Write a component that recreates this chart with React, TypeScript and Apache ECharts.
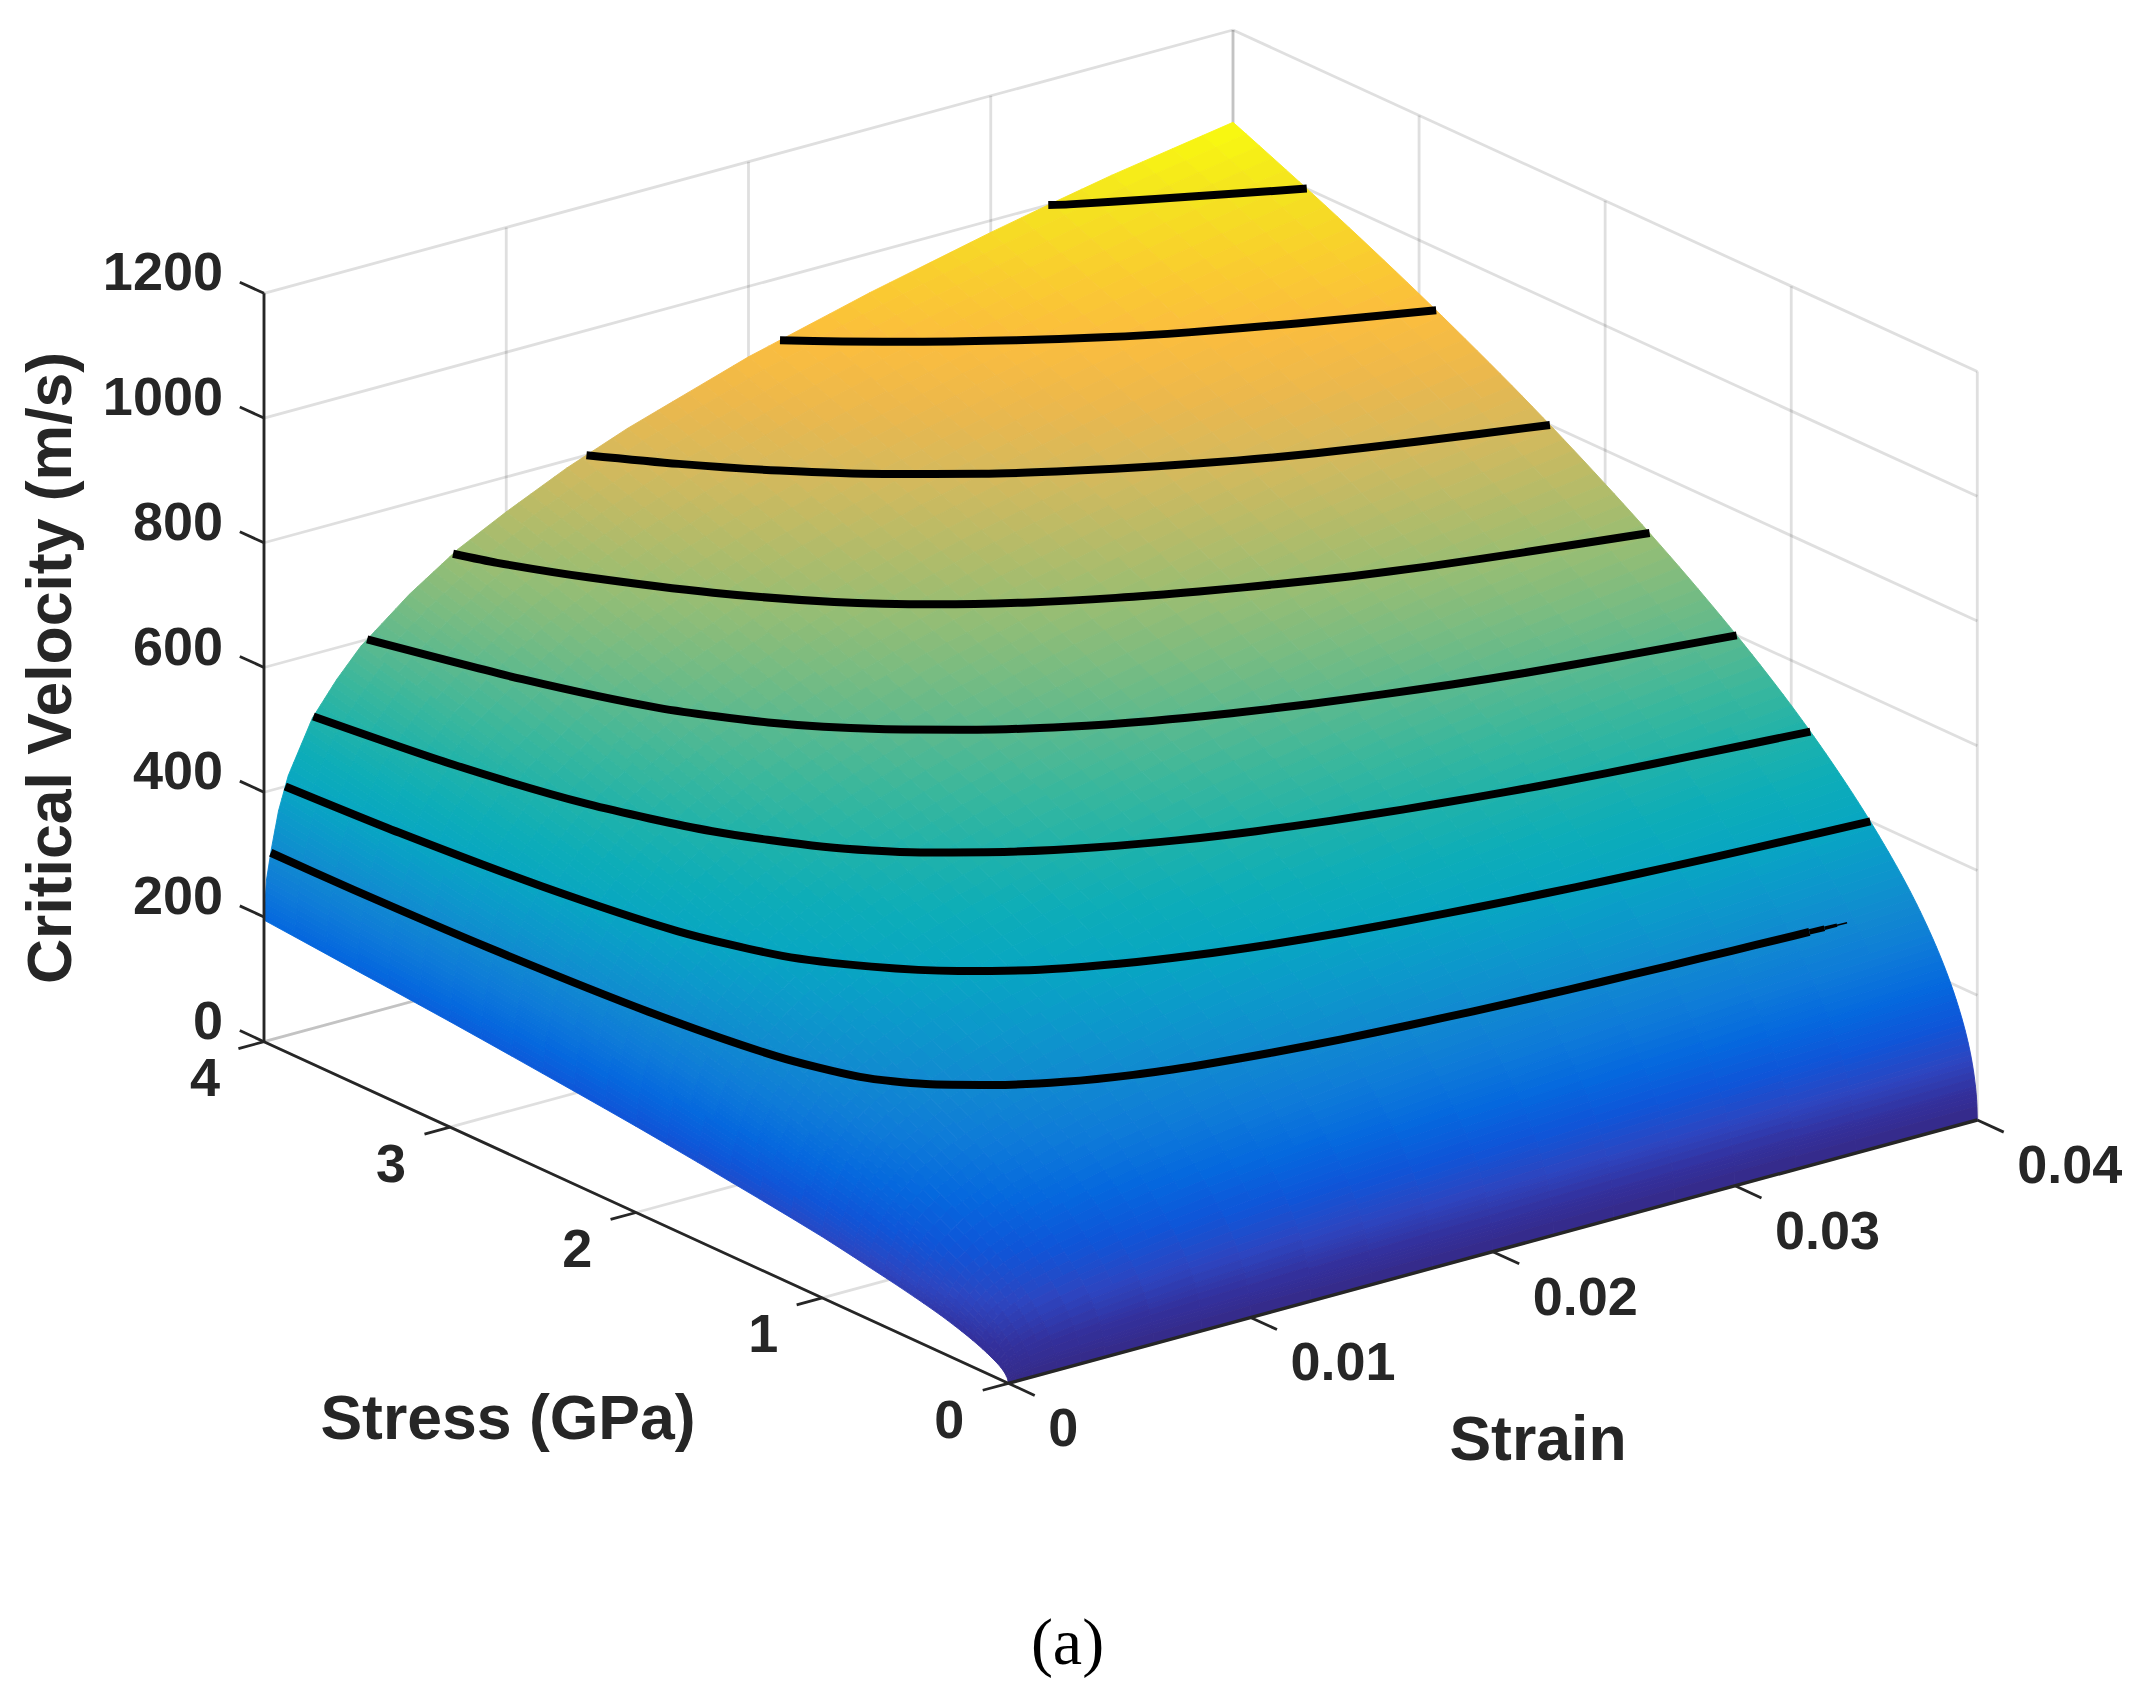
import React, { useEffect, useRef } from "react";
import * as echarts from "echarts";

const WIDTH = 2147;
const HEIGHT = 1697;

// Mesh positions
const strainNodes = [0, 0.0001, 0.0003, 0.0006, 0.001, 0.002, 0.003, 0.004, 0.006, 0.008, 0.01, 0.0125, 0.015, 0.0175, 0.02, 0.0225, 0.025, 0.0275, 0.03, 0.0325, 0.035, 0.04];
const stressNodes = [0, 0.01, 0.04, 0.09, 0.16, 0.25, 0.36, 0.5, 0.75, 1, 1.5, 2, 2.5, 3, 3.5, 4];

// Critical velocity (m/s): one row per stress node, one column per strain node
const velocityRows = [
  [0, 0, 0, 0, 0, 0, 0, 0, 0, 0, 0, 0, 0, 0, 0, 0, 0, 0, 0, 0, 0, 0],
  [10, 13, 15, 18, 21, 25, 27, 30, 33, 35, 37, 39, 41, 43, 44, 46, 47, 48, 49, 50, 51, 53],
  [20, 26, 31, 36, 42, 50, 55, 59, 65, 71, 74, 79, 83, 86, 89, 91, 94, 96, 98, 100, 102, 106],
  [29, 39, 46, 55, 62, 75, 82, 89, 98, 106, 112, 118, 124, 128, 133, 137, 141, 144, 147, 150, 153, 158],
  [39, 52, 61, 73, 83, 100, 110, 118, 131, 141, 149, 158, 165, 171, 177, 182, 187, 192, 196, 200, 204, 211],
  [49, 65, 76, 91, 104, 125, 137, 148, 164, 176, 186, 197, 206, 214, 222, 228, 234, 240, 245, 250, 255, 264],
  [59, 77, 92, 109, 125, 149, 165, 178, 196, 212, 223, 236, 248, 257, 266, 274, 281, 288, 294, 300, 306, 317],
  [69, 91, 108, 129, 147, 176, 194, 210, 232, 250, 263, 279, 292, 303, 314, 323, 332, 339, 347, 354, 361, 373],
  [84, 112, 132, 158, 180, 216, 238, 256, 283, 305, 322, 341, 357, 371, 384, 395, 406, 415, 425, 433, 442, 457],
  [98, 129, 153, 182, 208, 249, 275, 296, 327, 353, 372, 394, 413, 428, 444, 456, 469, 480, 491, 501, 510, 528],
  [119, 158, 187, 223, 255, 305, 336, 362, 400, 431, 455, 482, 505, 524, 543, 558, 573, 587, 600, 613, 624, 646],
  [138, 182, 216, 257, 294, 352, 388, 419, 462, 498, 526, 557, 583, 605, 627, 645, 662, 678, 694, 708, 721, 746],
  [154, 204, 241, 288, 329, 394, 434, 468, 517, 558, 588, 623, 653, 677, 702, 721, 741, 759, 776, 792, 807, 835],
  [169, 223, 264, 315, 360, 431, 475, 513, 566, 611, 644, 682, 714, 741, 768, 790, 811, 831, 850, 867, 883, 914],
  [182, 241, 285, 340, 389, 466, 513, 554, 611, 659, 696, 737, 771, 800, 829, 853, 876, 897, 917, 936, 954, 986],
  [195, 258, 305, 364, 416, 498, 549, 592, 654, 705, 744, 788, 825, 856, 887, 912, 937, 959, 981, 1001, 1020, 1052],
];

const contourLevels = [300, 400, 500, 600, 700, 800, 900, 1000];
const contourStrainEnd = [0.0357, 0.04, 0.04, 0.04, 0.04, 0.04, 0.04, 0.04];
const taperEnds = [0.0363, 0.0368, 0.0372];
const taperWidths = [5.5, 3.5, 1.5];

const strainTicks = [0, 0.01, 0.02, 0.03, 0.04];
const strainTickLabels = ["0", "0.01", "0.02", "0.03", "0.04"];
const stressTicks = [0, 1, 2, 3, 4];
const stressTickLabels = ["0", "1", "2", "3", "4"];
const velocityTicks = [0, 200, 400, 600, 800, 1000, 1200];
const velocityTickLabels = ["0", "200", "400", "600", "800", "1000", "1200"];

// Colour of the surface against velocity
const colorLevels = [0, 45, 92, 145, 195, 250, 300, 350, 400, 450, 500, 550, 600, 650, 700, 750, 800, 850, 900, 950, 1000, 1052];
const colorValues = ["#352a87", "#33309c", "#2d45c0", "#0f55d8", "#0568de", "#0e7bd8", "#1189d0", "#0c98cb", "#08a6c2", "#0dadb8", "#20b2aa", "#3ab79c", "#5cb98e", "#7cbc80", "#9bbd72", "#b9bb67", "#d6b95c", "#ecb84c", "#fbbd3e", "#f9ce2e", "#f4e31f", "#f9fb0e"];

// View of the 3-D box on the page
const ORIGIN = [1008.3, 1383.3];
const STRAIN_SPAN = [969, -263.3];
const STRESS_SPAN = [-744.3, -341.6];
const STRAIN_MAX = 0.04;
const STRESS_MAX = 4;
const VELOCITY_MAX = 1200;
const VELOCITY_SPAN = 748.4;

const TEXT = "#262626";
const SANS = "'Liberation Sans', Arial, sans-serif";

function project(strain: number, stress: number, velocity: number): number[] {
  const a = strain / STRAIN_MAX;
  const b = stress / STRESS_MAX;
  return [
    ORIGIN[0] + a * STRAIN_SPAN[0] + b * STRESS_SPAN[0],
    ORIGIN[1] + a * STRAIN_SPAN[1] + b * STRESS_SPAN[1] - (velocity / VELOCITY_MAX) * VELOCITY_SPAN,
  ];
}

function hexToRgb(h: string): number[] {
  return [1, 3, 5].map((k) => parseInt(h.slice(k, k + 2), 16));
}
const colorRgb = colorValues.map(hexToRgb);

function colorAt(z: number): string {
  let k = 0;
  while (k < colorLevels.length - 2 && z > colorLevels[k + 1]) k++;
  const t = Math.max(0, Math.min(1, (z - colorLevels[k]) / (colorLevels[k + 1] - colorLevels[k])));
  const c = colorRgb[k].map((v, n) => Math.round(v + (colorRgb[k + 1][n] - v) * t));
  return `rgb(${c[0]},${c[1]},${c[2]})`;
}

// Mesh look-up between the table's nodes
function velocityAtColumn(strain: number): number[] {
  let i = 0;
  while (i < strainNodes.length - 2 && strain > strainNodes[i + 1]) i++;
  const t = (strain - strainNodes[i]) / (strainNodes[i + 1] - strainNodes[i]);
  return velocityRows.map((row) => row[i] + (row[i + 1] - row[i]) * t);
}

function stressOnContour(strain: number, level: number): number | null {
  const col = velocityAtColumn(strain);
  if (col[col.length - 1] < level) return null;
  for (let j = 0; j < col.length - 1; j++) {
    if (col[j + 1] >= level) {
      const t = (level * level - col[j] * col[j]) / (col[j + 1] * col[j + 1] - col[j] * col[j]);
      return stressNodes[j] + t * (stressNodes[j + 1] - stressNodes[j]);
    }
  }
  return null;
}

function contourPoints(level: number, from: number, to: number): number[][] {
  const strains: number[] = [from, to, ...strainNodes];
  const top = velocityRows[velocityRows.length - 1];
  for (let i = 0; i < strainNodes.length - 1; i++) {
    if (top[i] <= level && top[i + 1] > level) {
      strains.push(strainNodes[i] + ((level - top[i]) / (top[i + 1] - top[i])) * (strainNodes[i + 1] - strainNodes[i]));
    }
  }
  strains.sort((p, q) => p - q);
  const out: number[][] = [];
  let last = -1;
  for (const s of strains) {
    if (s < from || s > to || s - last < 1e-7) continue;
    const stress = stressOnContour(s, level);
    if (stress !== null) {
      out.push(project(s, stress, level));
      last = s;
    }
  }
  return out;
}

// Evens out the rounding of the table's integers along a contour, without shrinking it
function evenOut(points: number[][]): number[][] {
  const pass = (cur: number[][], w: number) =>
    cur.map((p, n) => {
      if (n === 0 || n === cur.length - 1) return p;
      return [0, 1].map((d) => p[d] + w * (0.5 * (cur[n - 1][d] + cur[n + 1][d]) - p[d]));
    });
  let cur = points;
  for (let k = 0; k < 4; k++) cur = pass(pass(cur, 0.5), -0.53);
  return cur;
}

const cellData: number[][] = [];
for (let j = stressNodes.length - 2; j >= 0; j--) {
  for (let i = strainNodes.length - 2; i >= 0; i--) cellData.push([i, j]);
}

function renderCell(_: any, api: any) {
  const i = api.value(0) as number;
  const j = api.value(1) as number;
  const z00 = velocityRows[j][i];
  const z10 = velocityRows[j][i + 1];
  const z01 = velocityRows[j + 1][i];
  const z11 = velocityRows[j + 1][i + 1];
  const nu = Math.min(10, Math.max(1, Math.ceil(Math.max(Math.abs(z10 - z00), Math.abs(z11 - z01)) / 10)));
  const nv = Math.min(12, Math.max(3, Math.ceil(Math.max(Math.abs(z01 - z00), Math.abs(z11 - z10)) / 10)));
  const vertex = (a: number, b: number) => {
    const low = z00 * (1 - a) + z10 * a;
    const high = z01 * (1 - a) + z11 * a;
    const z = Math.sqrt(low * low * (1 - b) + high * high * b);
    const e = strainNodes[i] + (strainNodes[i + 1] - strainNodes[i]) * a;
    const s = stressNodes[j] + (stressNodes[j + 1] - stressNodes[j]) * b;
    return { z, p: api.coord(project(e, s, z)) };
  };
  const children: any[] = [];
  for (let b = nv - 1; b >= 0; b--) {
    for (let a = nu - 1; a >= 0; a--) {
      const q = [
        vertex(a / nu, b / nv),
        vertex((a + 1) / nu, b / nv),
        vertex((a + 1) / nu, (b + 1) / nv),
        vertex(a / nu, (b + 1) / nv),
      ];
      const fill = colorAt((q[0].z + q[1].z + q[2].z + q[3].z) / 4);
      children.push({
        type: "polygon",
        shape: { points: q.map((v) => v.p) },
        style: { fill, stroke: fill, lineWidth: 0.9 },
      });
    }
  }
  return { type: "group", children };
}

function segment(api: any, from: number[], to: number[], stroke: string, opacity: number, lineWidth: number) {
  const a = api.coord(from);
  const b = api.coord(to);
  return {
    type: "line",
    shape: { x1: a[0], y1: a[1], x2: b[0], y2: b[1] },
    style: { stroke, opacity, lineWidth, lineCap: "butt" },
  };
}

function renderWalls(_: any, api: any) {
  const children: any[] = [];
  const grid = (from: number[], to: number[]) => children.push(segment(api, from, to, TEXT, 0.15, 2.8));
  for (const z of velocityTicks) {
    grid(project(0, STRESS_MAX, z), project(STRAIN_MAX, STRESS_MAX, z));
    grid(project(STRAIN_MAX, STRESS_MAX, z), project(STRAIN_MAX, 0, z));
  }
  for (const e of strainTicks) {
    grid(project(e, STRESS_MAX, 0), project(e, STRESS_MAX, VELOCITY_MAX));
    grid(project(e, 0, 0), project(e, STRESS_MAX, 0));
  }
  for (const s of stressTicks) {
    grid(project(STRAIN_MAX, s, 0), project(STRAIN_MAX, s, VELOCITY_MAX));
    grid(project(0, s, 0), project(STRAIN_MAX, s, 0));
  }
  return { type: "group", children };
}

function renderAxes(_: any, api: any) {
  const children: any[] = [];
  const dark = (from: number[], to: number[], w = 2.8) => children.push(segment(api, from, to, TEXT, 1, w));
  const label = (pos: number[], dx: number, dy: number, text: string, align: string) => {
    const p = api.coord(pos);
    children.push({
      type: "text",
      x: p[0] + dx,
      y: p[1] + dy,
      style: { text, fill: TEXT, fontFamily: SANS, fontWeight: "bold", fontSize: 54, align, verticalAlign: "middle" },
    });
  };
  dark(project(0, STRESS_MAX, 0), project(0, STRESS_MAX, VELOCITY_MAX));
  dark(project(0, 0, 0), project(0, STRESS_MAX, 0));
  dark(project(0, 0, 0), project(STRAIN_MAX, 0, 0), 3.4);
  velocityTicks.forEach((z, k) => {
    dark(project(0, STRESS_MAX, z), project(0, STRESS_MAX * 1.0325, z));
    label(project(0, STRESS_MAX, z), -41, -22, velocityTickLabels[k], "right");
  });
  stressTicks.forEach((s, k) => {
    dark(project(0, s, 0), project(-STRAIN_MAX * 0.0264, s, 0));
    label(project(0, s, 0), -59, 35.5, stressTickLabels[k], "center");
  });
  strainTicks.forEach((e, k) => {
    dark(project(e, 0, 0), project(e, -STRESS_MAX * 0.0355, 0));
    label(project(e, 0, 0), 40, 44, strainTickLabels[k], "left");
  });
  return { type: "group", children };
}

function contourSeries() {
  const series: any[] = [];
  contourLevels.forEach((level, k) => {
    const end = contourStrainEnd[k];
    const lineOf = (name: string, data: number[][], width: number, smooth: number) => ({
      type: "line",
      name,
      data,
      z: 3,
      symbol: "none",
      smooth,
      silent: true,
      clip: false,
      lineStyle: { color: "#000", width, cap: "butt", join: "round" },
    });
    series.push(lineOf(String(level), evenOut(contourPoints(level, 0, end)), 8, 0.25));
    if (end < STRAIN_MAX) {
      let prev = end;
      taperEnds.forEach((t, n) => {
        series.push(lineOf(`${level} end ${n}`, contourPoints(level, prev, t), taperWidths[n], 0));
        prev = t;
      });
    }
  });
  return series;
}

export default function App() {
  const ref = useRef<HTMLDivElement>(null);
  useEffect(() => {
    if (!ref.current) return;
    const chart = echarts.init(ref.current, undefined, { renderer: "svg" });
    chart.setOption({
      animation: false,
      backgroundColor: "#fff",
      tooltip: { show: false },
      grid: { left: 0, right: 0, top: 0, bottom: 0, containLabel: false },
      xAxis: { type: "value", min: 0, max: WIDTH, show: false },
      yAxis: { type: "value", min: 0, max: HEIGHT, inverse: true, show: false },
      graphic: [
        {
          type: "text",
          x: 49,
          y: 668,
          rotation: Math.PI / 2,
          z: 10,
          style: { text: "Critical Velocity (m/s)", fill: TEXT, fontFamily: SANS, fontWeight: "bold", fontSize: 62.5, align: "center", verticalAlign: "middle" },
        },
        {
          type: "text",
          x: 508,
          y: 1416.5,
          z: 10,
          style: { text: "Stress (GPa)", fill: TEXT, fontFamily: SANS, fontWeight: "bold", fontSize: 62.5, align: "center", verticalAlign: "middle" },
        },
        {
          type: "text",
          x: 1538,
          y: 1437.5,
          z: 10,
          style: { text: "Strain", fill: TEXT, fontFamily: SANS, fontWeight: "bold", fontSize: 62.5, align: "center", verticalAlign: "middle" },
        },
        {
          type: "text",
          x: 1067.5,
          y: 1641,
          z: 10,
          style: { text: "(a)", fill: "#000", fontFamily: "'Liberation Serif', serif", fontSize: 66, align: "center", verticalAlign: "middle" },
        },
      ],
      series: [
        { type: "custom", name: "walls", z: 1, silent: true, clip: false, data: [[0, 0]], encode: { x: 0, y: 1 }, renderItem: renderWalls },
        { type: "custom", name: "Critical velocity surface", z: 2, silent: true, clip: false, data: cellData, encode: { x: 0, y: 1 }, renderItem: renderCell },
        ...contourSeries(),
        { type: "custom", name: "axes", z: 4, silent: true, clip: false, data: [[0, 0]], encode: { x: 0, y: 1 }, renderItem: renderAxes },
      ],
    });
    return () => chart.dispose();
  }, []);
  return <div ref={ref} style={{ position: "absolute", left: 0, top: 0, width: WIDTH, height: HEIGHT }} />;
}
